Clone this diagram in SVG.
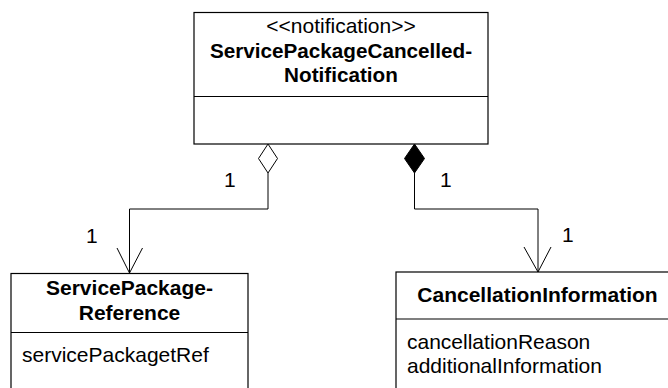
<svg xmlns="http://www.w3.org/2000/svg" width="668" height="388" viewBox="0 0 668 388">
<style>
.box{fill:#fff;stroke:#000;stroke-width:1.2}
.div{stroke:#000;stroke-width:1.2}
.t{font-family:"Liberation Sans",Arial,sans-serif;font-size:21px;fill:#000}
.b{font-weight:bold}
.c{text-anchor:middle}
.line{fill:none;stroke:#000;stroke-width:1}
</style>
<rect width="668" height="388" fill="#fff"/>
<g id="notification">
<rect class="box" x="194" y="12.5" width="294" height="131.5"/>
<line class="div" x1="194" y1="96.5" x2="488" y2="96.5"/>
<text class="t c" x="341" y="33">&lt;&lt;notification&gt;&gt;</text>
<text class="t b c" x="341" y="57.5" style="font-size:20.7px">ServicePackageCancelled-</text>
<text class="t b c" x="341" y="81.5" style="font-size:20.7px">Notification</text>
</g>
<g id="servicePackageReference">
<rect class="box" x="11" y="273.5" width="237" height="130"/>
<line class="div" x1="11" y1="332.5" x2="248" y2="332.5"/>
<text class="t b c" x="129.5" y="295">ServicePackage-</text>
<text class="t b c" x="129.5" y="320">Reference</text>
<text class="t" x="22" y="361.5">servicePackagetRef</text>
</g>
<g id="cancellationInformation">
<rect class="box" x="396" y="272" width="290" height="130"/>
<line class="div" x1="396" y1="319" x2="686" y2="319"/>
<text class="t b c" x="537.5" y="301.5">CancellationInformation</text>
<text class="t" x="407" y="349">cancellationReason</text>
<text class="t" x="407" y="372.5">additionalInformation</text>
</g>
<g id="connectors">
<path class="line" d="M268,173 V209 H129.5 V273"/>
<polygon points="268,144 277.5,158.5 268,173 258.5,158.5" fill="#fff" stroke="#000" stroke-width="1"/>
<polyline class="line" points="117,248 129.5,273 142.5,248"/>
<path class="line" d="M414.5,173 V209 H538 V272"/>
<polygon points="414.5,144 424.5,158.5 414.5,173 404.5,158.5" fill="#000" stroke="#000" stroke-width="1"/>
<polyline class="line" points="524,247 538,272 551,247"/>
<text class="t" x="224" y="187">1</text>
<text class="t" x="86" y="243">1</text>
<text class="t" x="440" y="187">1</text>
<text class="t" x="562" y="242">1</text>
</g>
</svg>
